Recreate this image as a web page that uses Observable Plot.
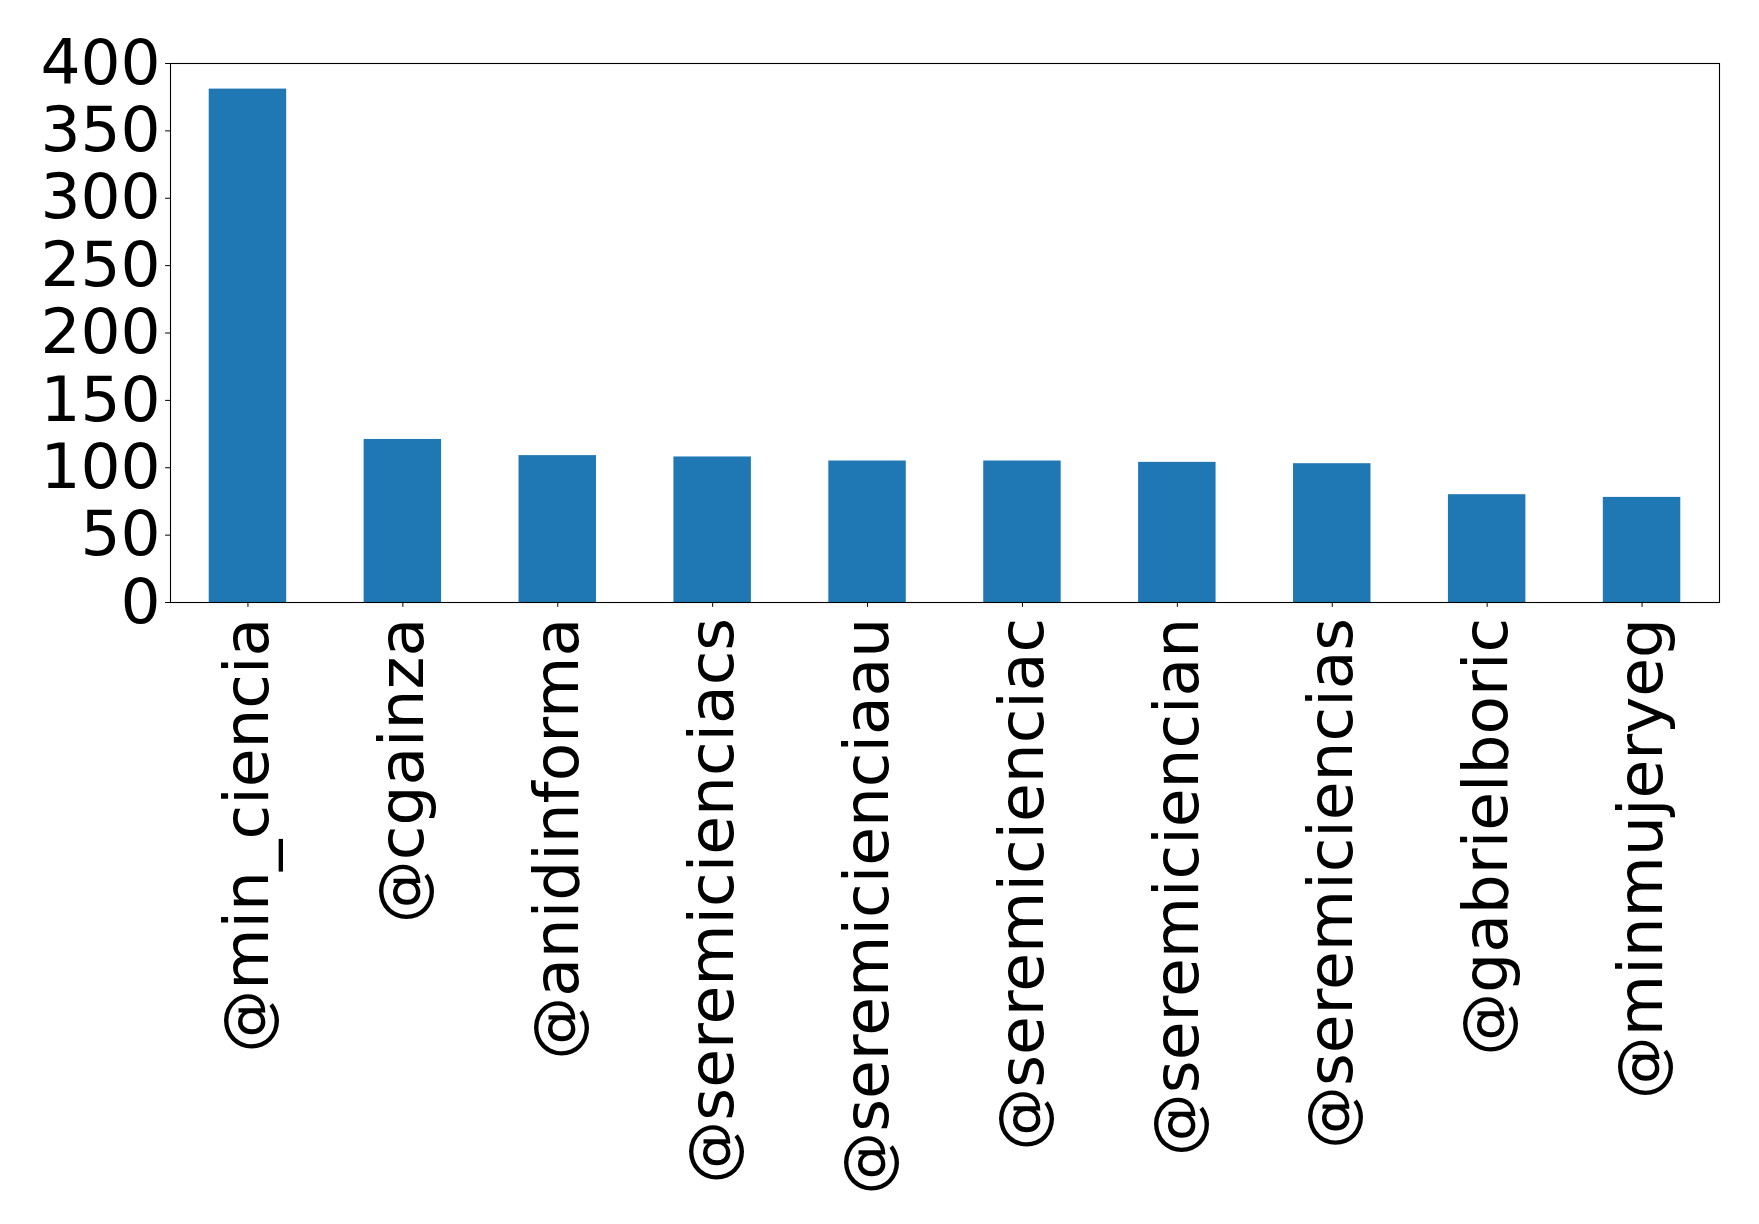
<!DOCTYPE html>
<html>
<head>
<meta charset="utf-8">
<script src="https://cdn.jsdelivr.net/npm/d3@7"></script>
<script src="https://cdn.jsdelivr.net/npm/@observablehq/plot@0.6"></script>
<style>
  html, body { margin: 0; padding: 0; background: #ffffff; }
  #chart { width: 1759px; height: 1224px; }
</style>
</head>
<body>
<div id="chart"></div>
<script>
const accounts = ["@min_ciencia", "@cgainza", "@anidinforma", "@seremicienciacs", "@seremicienciaau",
                  "@seremicienciac", "@seremiciencian", "@seremiciencias", "@gabrielboric", "@minmujeryeg"];
const counts = [381, 121, 109, 108, 105, 105, 104, 103, 80, 78];
const yTicks = [0, 50, 100, 150, 200, 250, 300, 350, 400];

const data = accounts.map((a, i) => ({account: a, count: counts[i]}));

const chart = Plot.plot({
  width: 1759,
  height: 1224,
  marginLeft: 170,
  marginRight: 40,
  marginTop: 63,
  marginBottom: 622,
  style: {fontFamily: "DejaVu Sans", background: "#ffffff", color: "#000000"},
  x: {domain: accounts, paddingInner: 0.5, paddingOuter: 0.25, round: false, label: null},
  y: {domain: [0, 400], label: null},
  marks: [
    Plot.barY(data, {x: "account", y: "count", fill: "#1f77b4"}),
    Plot.axisY({ticks: yTicks, tickSize: 4.9, tickPadding: 4.9, fontSize: 63, stroke: "#000", label: null}),
    Plot.axisX({tickSize: 4.9, tickPadding: 10.5, fontSize: 63, tickRotate: -90, stroke: "#000", label: null}),
    Plot.frame({stroke: "#000000", strokeWidth: 1.1})
  ]
});
document.getElementById("chart").appendChild(chart);
</script>
</body>
</html>
